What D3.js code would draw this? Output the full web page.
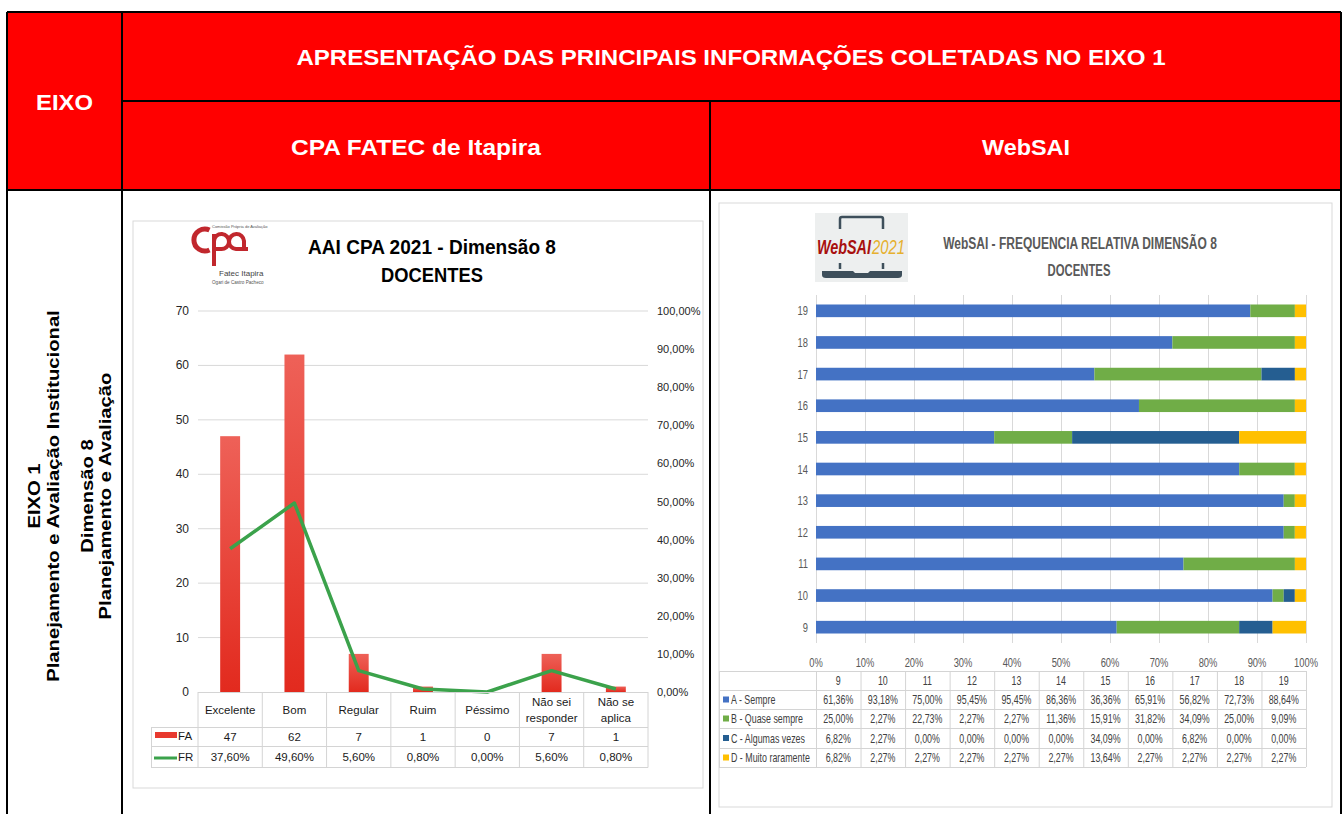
<!DOCTYPE html>
<html><head><meta charset="utf-8">
<script src="https://cdn.jsdelivr.net/npm/d3@7"></script>
<style>body{margin:0;background:#fff;} svg{display:block;font-family:"Liberation Sans",Arial,sans-serif;}</style>
</head><body><script>
// ---------- DATA ----------
const headerTitle = "APRESENTAÇÃO DAS PRINCIPAIS INFORMAÇÕES COLETADAS NO EIXO 1";
const eixoLines = ["EIXO 1", "Planejamento e Avaliação Institucional", "Dimensão 8", "Planejamento e Avaliação"];

const fatecCategories = ["Excelente", "Bom", "Regular", "Ruim", "Péssimo", "Não sei|responder", "Não se|aplica"];
const fatecFA = [47, 62, 7, 1, 0, 7, 1];
const fatecFR = [0.376, 0.496, 0.056, 0.008, 0.0, 0.056, 0.008];
const faTicks = [0, 10, 20, 30, 40, 50, 60, 70];
const frTicks = [0, 0.1, 0.2, 0.3, 0.4, 0.5, 0.6, 0.7, 0.8, 0.9, 1.0];

const websaiQuestions = ["9", "10", "11", "12", "13", "14", "15", "16", "17", "18", "19"];
const sempre        = [61.36, 93.18, 75.00, 95.45, 95.45, 86.36, 36.36, 65.91, 56.82, 72.73, 88.64];
const quaseSempre   = [25.00, 2.27, 22.73, 2.27, 2.27, 11.36, 15.91, 31.82, 34.09, 25.00, 9.09];
const algumasVezes  = [6.82, 2.27, 0.00, 0.00, 0.00, 0.00, 34.09, 0.00, 6.82, 0.00, 0.00];
const muitoRaramente= [6.82, 2.27, 2.27, 2.27, 2.27, 2.27, 13.64, 2.27, 2.27, 2.27, 2.27];
const websaiSeriesNames = ["A - Sempre", "B - Quase sempre", "C - Algumas vezes", "D - Muito raramente"];
const websaiTicks = [0, 10, 20, 30, 40, 50, 60, 70, 80, 90, 100];

// ---------- STYLES ----------
const websaiColors = ["#4472C4", "#70AD47", "#255E91", "#FFC000"];
const RED = "#FF0000";

const ptLocale = d3.formatLocale({decimal: ",", thousands: ".", grouping: [3], currency: ["R$", ""]});
const pct2 = ptLocale.format(".2%");

const svg = d3.select("body").append("svg").attr("width", 1343).attr("height", 814);

// horizontal scaling of text via transforms (k = factor, or fit to width w, with optional max width)
function squeeze(sel, k, maxW, toW) {
  sel.each(function () {
    const t = d3.select(this);
    const l = this.getComputedTextLength();
    if (!(l > 0)) return;
    let f = toW ? toW / l : k;
    if (maxW && l * f > maxW) f = maxW / l;
    const x = +t.attr("x") || 0, y = +t.attr("y") || 0;
    const prev = t.attr("transform") || "";
    t.attr("x", null).attr("y", null).attr("transform", `${prev} translate(${x},${y}) scale(${f},1)`);
  });
  return sel;
}
const fit = (sel, w) => squeeze(sel, 1, null, w);

// ---------- OUTER TABLE ----------
svg.append("rect").attr("x", 7).attr("y", 12).attr("width", 1334).attr("height", 178).attr("fill", RED);
const bl = svg.append("g").attr("stroke", "#000").attr("stroke-width", 2);
[[7, 12, 1341, 12], [122, 101, 1341, 101], [7, 190, 1341, 190],
 [7, 12, 7, 814], [122, 12, 122, 814], [710, 101, 710, 814], [1341, 12, 1341, 814]]
  .forEach(l => bl.append("line").attr("x1", l[0]).attr("y1", l[1]).attr("x2", l[2]).attr("y2", l[3]));

const hdr = svg.append("g").attr("fill", "#fff").attr("font-weight", "bold").attr("font-size", 22).attr("text-anchor", "middle").attr("dominant-baseline", "central");
fit(hdr.append("text").attr("x", 731).attr("y", 57).text(headerTitle), 870);
fit(hdr.append("text").attr("x", 64.5).attr("y", 102).text("EIXO"), 57);
fit(hdr.append("text").attr("x", 416).attr("y", 147).text("CPA FATEC de Itapira"), 250);
fit(hdr.append("text").attr("x", 1026).attr("y", 147).text("WebSAI"), 88);

const side = svg.append("g").attr("font-weight", "bold").attr("font-size", 17).attr("text-anchor", "middle").attr("dominant-baseline", "central").attr("fill", "#000");
const sideX = [34, 53, 87, 105];
eixoLines.forEach((t, i) => {
  const s = side.append("text").attr("transform", `translate(${sideX[i]},496) rotate(-90)`).text(t);
  squeeze(s, 1.19);
});

// ---------- LEFT CHART (CPA FATEC) ----------
const L = svg.append("g");
L.append("rect").attr("x", 133).attr("y", 221).attr("width", 570).attr("height", 567).attr("fill", "#fff").attr("stroke", "#d9d9d9");

// logo
const logo = L.append("g").attr("fill", "none");
const lc = "#C1272D";
logo.append("path").attr("d", "M209.5,230 A11,11 0 1 0 209.5,250").attr("stroke", lc).attr("stroke-width", 5);
logo.append("path").attr("d", "M214,234 L214,266").attr("stroke", lc).attr("stroke-width", 4);
logo.append("path").attr("d", "M214,248 L214,241 A7.5,7.5 0 1 1 221,249 L214,249").attr("stroke", lc).attr("stroke-width", 4);
logo.append("path").attr("d", "M248,249 L244,249 L244,241 A7.5,7.5 0 1 0 236,249 L244,249").attr("stroke", lc).attr("stroke-width", 4);
logo.append("text").attr("x", 212).attr("y", 228).attr("font-size", 4).attr("fill", "#555").text("Comissão Própria de Avaliação");
logo.append("text").attr("x", 219).attr("y", 276).attr("font-size", 8).attr("fill", "#444").text("Fatec Itapira");
logo.append("text").attr("x", 212).attr("y", 284).attr("font-size", 4.6).attr("fill", "#555").text("Ogari de Castro Pacheco");

const lt = L.append("g").attr("font-weight", "bold").attr("font-size", 20).attr("text-anchor", "middle").attr("dominant-baseline", "central").attr("fill", "#000");
fit(lt.append("text").attr("x", 432).attr("y", 247).text("AAI CPA 2021 - Dimensão 8"), 248);
fit(lt.append("text").attr("x", 432).attr("y", 275).text("DOCENTES"), 102);

const xL = d3.scaleBand().domain(fatecCategories).range([198, 648]).paddingInner(0.69).paddingOuter(0.345);
const stepL = (648 - 198) / fatecCategories.length;
const yL = d3.scaleLinear().domain([0, 70]).range([692, 311]);
const yR = d3.scaleLinear().domain([0, 1]).range([692, 311]);

L.append("g").selectAll("line").data(faTicks.slice(1)).join("line")
  .attr("x1", 198).attr("x2", 648).attr("y1", d => yL(d)).attr("y2", d => yL(d)).attr("stroke", "#d9d9d9");

L.append("g").attr("font-size", 12).attr("fill", "#262626").attr("text-anchor", "end").attr("dominant-baseline", "central")
  .selectAll("text").data(faTicks).join("text").attr("x", 189).attr("y", d => yL(d)).text(d => d);
L.append("g").attr("font-size", 11).attr("fill", "#262626").attr("dominant-baseline", "central")
  .selectAll("text").data(frTicks).join("text").attr("x", 657).attr("y", d => yR(d)).text(d => pct2(d));

const grad = svg.append("defs").append("linearGradient").attr("id", "barGrad").attr("x1", 0).attr("y1", 0).attr("x2", 0).attr("y2", 1);
grad.append("stop").attr("offset", "0%").attr("stop-color", "#EE6158");
grad.append("stop").attr("offset", "100%").attr("stop-color", "#E22A1E");

L.append("g").selectAll("rect").data(fatecFA).join("rect")
  .attr("x", (d, i) => xL(fatecCategories[i])).attr("width", xL.bandwidth())
  .attr("y", d => yL(d)).attr("height", d => yL(0) - yL(d)).attr("fill", "url(#barGrad)");

const lineFR = d3.line().x((d, i) => xL(fatecCategories[i]) + xL.bandwidth() / 2).y(d => yR(d));
L.append("path").datum(fatecFR).attr("d", lineFR).attr("fill", "none").attr("stroke", "#3BA24B").attr("stroke-width", 3.5).attr("stroke-linejoin", "round");

// data table
const tg = L.append("g").attr("stroke", "#d4d4d4").attr("stroke-width", 1);
const colEdges = d3.range(fatecCategories.length + 1).map(k => 198 + k * stepL);
tg.append("line").attr("x1", 198).attr("x2", 648).attr("y1", 692.5).attr("y2", 692.5);
[727, 746, 767].forEach(y => tg.append("line").attr("x1", 151).attr("x2", 648).attr("y1", y + 0.5).attr("y2", y + 0.5));
colEdges.forEach(x => tg.append("line").attr("x1", x).attr("x2", x).attr("y1", 692).attr("y2", 767.5));
tg.append("line").attr("x1", 151.5).attr("x2", 151.5).attr("y1", 727).attr("y2", 767.5);

const tt = L.append("g").attr("font-size", 11.5).attr("fill", "#1a1a1a").attr("text-anchor", "middle").attr("dominant-baseline", "central");
fatecCategories.forEach((c, i) => {
  const cx = 198 + stepL * (i + 0.5);
  const parts = c.split("|");
  if (parts.length === 1) tt.append("text").attr("x", cx).attr("y", 710).text(parts[0]);
  else parts.forEach((p, j) => tt.append("text").attr("x", cx).attr("y", 702 + j * 16).text(p));
  tt.append("text").attr("x", cx).attr("y", 737).text(fatecFA[i]);
  tt.append("text").attr("x", cx).attr("y", 757).text(pct2(fatecFR[i]));
});
L.append("rect").attr("x", 155).attr("y", 732).attr("width", 22).attr("height", 6).attr("fill", "#E8392E");
L.append("line").attr("x1", 154).attr("x2", 177).attr("y1", 758).attr("y2", 758).attr("stroke", "#3BA24B").attr("stroke-width", 3);
tt.append("text").attr("x", 178).attr("y", 736).attr("text-anchor", "start").text("FA");
tt.append("text").attr("x", 178).attr("y", 757).attr("text-anchor", "start").text("FR");

// ---------- RIGHT CHART (WebSAI) ----------
const R = svg.append("g");
R.append("rect").attr("x", 719).attr("y", 203).attr("width", 613).attr("height", 604).attr("fill", "#fff").attr("stroke", "#d9d9d9");

// logo
const wl = R.append("g");
wl.append("rect").attr("x", 815).attr("y", 213).attr("width", 93).attr("height", 69).attr("fill", "#EDEFEF");
const dk = "#3E4F5B";
wl.append("path").attr("d", "M840,229 L840,219 Q840,217 842,217 L881,217 Q883,217 883,219 L883,229").attr("fill", "none").attr("stroke", dk).attr("stroke-width", 2.5);
wl.append("path").attr("d", "M840,263 L840,269 M883,263 L883,269").attr("stroke", dk).attr("stroke-width", 2.5);
wl.append("path").attr("d", "M822,271 L853,271 L855,273 L868,273 L870,271 L902,271 L902,275 Q902,278 898,278 L826,278 Q822,278 822,275 Z").attr("fill", dk);
const wlt = wl.append("g").attr("font-size", 20).attr("font-style", "italic").attr("dominant-baseline", "central");
fit(wlt.append("text").attr("x", 817).attr("y", 247).attr("fill", "#A8100E").attr("font-weight", "bold").text("WebSAI"), 54);
fit(wlt.append("text").attr("x", 872).attr("y", 247).attr("fill", "#E6B02E").text("2021"), 33);

const rt = R.append("g").attr("font-weight", "bold").attr("font-size", 17).attr("text-anchor", "middle").attr("dominant-baseline", "central").attr("fill", "#595959");
fit(rt.append("text").attr("x", 1080).attr("y", 243).text("WebSAI - FREQUENCIA RELATIVA DIMENSÃO 8"), 274);
fit(rt.append("text").attr("x", 1079).attr("y", 270).text("DOCENTES"), 63);

const xW = d3.scaleLinear().domain([0, 100]).range([816, 1306]);
const yW = d3.scaleBand().domain(websaiQuestions.slice().reverse()).range([295, 643]).paddingInner(0.6).paddingOuter(0.3);

R.append("g").selectAll("line").data(websaiTicks).join("line")
  .attr("x1", d => xW(d) + 0.5).attr("x2", d => xW(d) + 0.5).attr("y1", 295).attr("y2", 643).attr("stroke", "#d9d9d9");

const rows = websaiQuestions.map((q, i) => ({q, s0: sempre[i], s1: quaseSempre[i], s2: algumasVezes[i], s3: muitoRaramente[i]}));
const stacked = d3.stack().keys(["s0", "s1", "s2", "s3"])(rows);
R.append("g").selectAll("g").data(stacked).join("g").attr("fill", (d, i) => websaiColors[i])
  .selectAll("rect").data(d => d).join("rect")
  .attr("x", d => xW(d[0])).attr("width", d => xW(d[1]) - xW(d[0]))
  .attr("y", d => yW(d.data.q)).attr("height", yW.bandwidth());

const ylab = R.append("g").attr("font-size", 13).attr("fill", "#595959").attr("text-anchor", "end").attr("dominant-baseline", "central")
  .selectAll("text").data(websaiQuestions).join("text").attr("x", 808).attr("y", d => yW(d) + yW.bandwidth() / 2).text(d => d);
squeeze(ylab, 0.72);
const xlab = R.append("g").attr("font-size", 13).attr("fill", "#595959").attr("text-anchor", "middle").attr("dominant-baseline", "central")
  .selectAll("text").data(websaiTicks).join("text").attr("x", d => xW(d)).attr("y", 662).text(d => d + "%");
squeeze(xlab, 0.72);

// data table
const xC = d3.scaleBand().domain(websaiQuestions).range([816, 1306]);
const rowY = [671, 690, 709, 728, 748, 767];
const wg = R.append("g").attr("stroke", "#d4d4d4");
rowY.forEach(y => wg.append("line").attr("x1", 719).attr("x2", 1306).attr("y1", y + 0.5).attr("y2", y + 0.5));
[719].concat(websaiQuestions.map(q => xC(q)), [1306]).forEach(x => wg.append("line").attr("x1", x + 0.5).attr("x2", x + 0.5).attr("y1", 671).attr("y2", 767));

const wt = R.append("g").attr("font-size", 12).attr("fill", "#404040").attr("dominant-baseline", "central");
const hdrT = wt.append("g").attr("text-anchor", "middle").selectAll("text").data(websaiQuestions).join("text")
  .attr("x", d => xC(d) + xC.bandwidth() / 2).attr("y", (rowY[0] + rowY[1]) / 2).text(d => d);
squeeze(hdrT, 0.74);
const seriesVals = [sempre, quaseSempre, algumasVezes, muitoRaramente];
seriesVals.forEach((vals, si) => {
  const cy = (rowY[si + 1] + rowY[si + 2]) / 2;
  const cells = wt.append("g").attr("text-anchor", "middle").selectAll("text").data(vals).join("text")
    .attr("x", (d, i) => xC(websaiQuestions[i]) + xC.bandwidth() / 2).attr("y", cy).text(d => pct2(d / 100));
  squeeze(cells, 0.74, 38);
  wt.append("rect").attr("x", 723).attr("y", cy - 3).attr("width", 6).attr("height", 6).attr("fill", websaiColors[si]);
  const lab = wt.append("text").attr("x", 731).attr("y", cy).text(websaiSeriesNames[si]);
  squeeze(lab, 0.74, 80);
});
</script></body></html>
